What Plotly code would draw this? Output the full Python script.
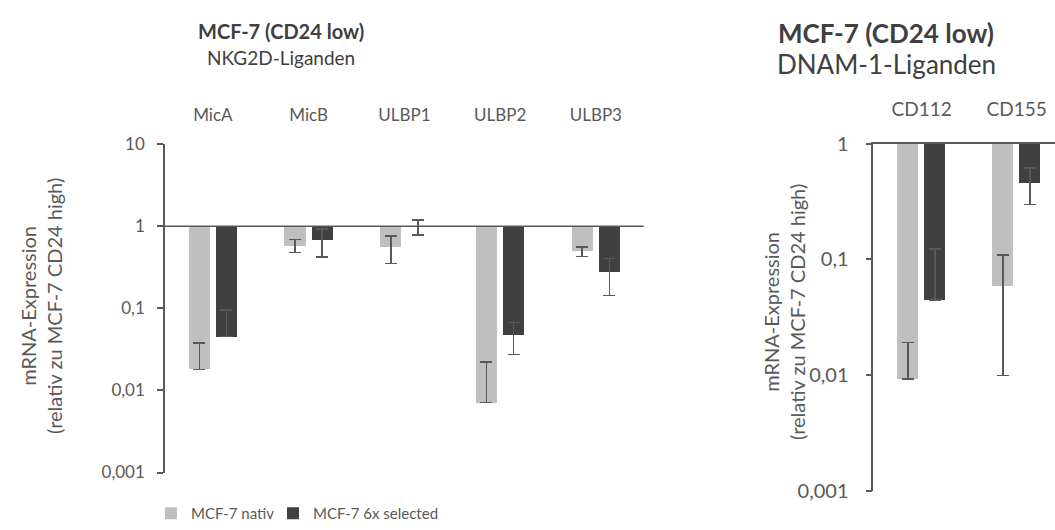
import plotly.graph_objects as go

# --- NKG2D ligands (left panel) ---
nkg_genes = ["MicA", "MicB", "ULBP1", "ULBP2", "ULBP3"]
nkg_nativ = [0.018, 0.58, 0.557, 0.0071, 0.493]
nkg_nativ_err_plus = [0.020, 0.105, 0.205, 0.015, 0.067]
nkg_nativ_err_minus = [0.0, 0.105, 0.205, 0.0, 0.067]
nkg_sel = [0.045, 0.671, 0.98, 0.0475, 0.273]
nkg_sel_err_plus = [0.050, 0.25, 0.20, 0.020, 0.13]
nkg_sel_err_minus = [0.0, 0.25, 0.20, 0.020, 0.13]

# --- DNAM-1 ligands (right panel) ---
dnam_genes = ["CD112", "CD155"]
dnam_nativ = [0.0092, 0.0594]
dnam_nativ_err_plus = [0.0099, 0.0495]
dnam_nativ_err_minus = [0.0, 0.0495]
dnam_sel = [0.0446, 0.459]
dnam_sel_err_plus = [0.078, 0.16]
dnam_sel_err_minus = [0.0, 0.16]

tick_vals_left = [10, 1, 0.1, 0.01, 0.001]
tick_text_left = ["10", "1", "0,1", "0,01", "0,001"]
tick_vals_right = [1, 0.1, 0.01, 0.001]
tick_text_right = ["1", "0,1", "0,01", "0,001"]

series_names = ["MCF-7 nativ", "MCF-7 6x selected"]

LIGHT = "#bfbfbf"
DARK = "#404040"
AXIS = "#595959"
TEXT = "#595959"
TITLE = "#404040"
FONT = "Lato"

BAR_W = 0.22
OFFSETS = [-0.252, 0.032]
LEGENDS = ["legend", "legend2"]


def bars(cats, vals, ep, em, idx, color, xa, ya, show):
    # bars hang down from the reference level 1 (ratio to CD24 high)
    return go.Bar(
        x=cats,
        y=[v - 1 for v in vals],
        base=1,
        width=BAR_W,
        offset=OFFSETS[idx],
        name=series_names[idx],
        marker=dict(color=color, line=dict(width=0)),
        error_y=dict(type="data", symmetric=False, array=ep, arrayminus=em,
                     color=AXIS, thickness=1.5, width=6),
        xaxis=xa, yaxis=ya,
        showlegend=show,
        legend=LEGENDS[idx],
    )


fig = go.Figure()
fig.add_trace(bars(nkg_genes, nkg_nativ, nkg_nativ_err_plus, nkg_nativ_err_minus,
                   0, LIGHT, "x", "y", True))
fig.add_trace(bars(nkg_genes, nkg_sel, nkg_sel_err_plus, nkg_sel_err_minus,
                   1, DARK, "x", "y", True))
fig.add_trace(bars(dnam_genes, dnam_nativ, dnam_nativ_err_plus, dnam_nativ_err_minus,
                   0, LIGHT, "x2", "y2", False))
fig.add_trace(bars(dnam_genes, dnam_sel, dnam_sel_err_plus, dnam_sel_err_minus,
                   1, DARK, "x2", "y2", False))

W, H = 1055, 530


def px_x(p):
    return p / W


def px_y(p):
    return 1 - p / H


def yaxis_style(size, standoff):
    return dict(
        type="log", showline=True, linecolor=AXIS, linewidth=1.5,
        ticks="outside", ticklen=6, tickwidth=1.5, tickcolor=AXIS,
        showgrid=False, zeroline=False, automargin=False,
        tickfont=dict(size=size, color=TEXT, family=FONT),
        ticklabelstandoff=standoff,
    )


def xaxis_style(size, standoff):
    return dict(
        type="category", side="top", ticks="", showgrid=False, zeroline=False,
        automargin=False,
        tickfont=dict(size=size, color=TEXT, family=FONT), ticklabelstandoff=standoff,
    )


def legend_box(x_px):
    return dict(orientation="h", x=px_x(x_px), y=0, xanchor="left", yanchor="bottom",
                font=dict(size=15, color=TEXT, family=FONT), bgcolor="rgba(0,0,0,0)",
                itemwidth=30)


fig.update_layout(
    width=W, height=H,
    margin=dict(l=0, r=0, t=0, b=0),
    paper_bgcolor="white", plot_bgcolor="white",
    barmode="overlay",
    separators=",.",
    font=dict(family=FONT, color=TEXT),
    xaxis=dict(domain=[px_x(165), px_x(643.7)], range=[-0.5, 4.5], showline=False,
               anchor="y", categoryorder="array", categoryarray=nkg_genes,
               **xaxis_style(17, 19)),
    yaxis=dict(domain=[px_y(472.5), px_y(144)], range=[-3, 1], anchor="x",
               tickvals=tick_vals_left, ticktext=tick_text_left, **yaxis_style(17, 9)),
    xaxis2=dict(domain=[px_x(873.3), 1.0], range=[-0.509, 1.404], showline=True,
                linecolor=AXIS, linewidth=1.5, anchor="y2",
                categoryorder="array", categoryarray=dnam_genes,
                **xaxis_style(19, 18)),
    yaxis2=dict(domain=[px_y(490.5), px_y(143.7)], range=[-3, 0], anchor="x2",
                tickvals=tick_vals_right, ticktext=tick_text_right, **yaxis_style(20, 13)),
    legend=legend_box(151),
    legend2=legend_box(273),
    bargap=0,
)

# reference level 1 across the left panel
fig.add_shape(type="line", xref="x domain", x0=0, x1=1, yref="y", y0=1, y1=1,
              line=dict(color=AXIS, width=1.5), layer="above")

annotations = [
    dict(text="<b>MCF-7 (CD24 low)</b>", x=px_x(281), y=px_y(31), size=20, color=TITLE),
    dict(text="NKG2D-Liganden", x=px_x(281), y=px_y(58), size=19, color=TITLE),
    dict(text="<b>MCF-7 (CD24 low)</b>", x=px_x(886), y=px_y(33), size=26, color=TITLE),
    dict(text="DNAM-1-Liganden", x=px_x(886), y=px_y(64), size=26, color=TITLE),
]
for a in annotations:
    fig.add_annotation(text=a["text"], x=a["x"], y=a["y"], xref="paper", yref="paper",
                       xanchor="center", yanchor="middle", showarrow=False,
                       font=dict(size=a["size"], color=a["color"], family=FONT))

y_title = "mRNA-Expression<br>(relativ zu MCF-7 CD24 high)"
for xc, yc in [(41, 306), (784, 312)]:
    fig.add_annotation(text=y_title, x=px_x(xc), y=px_y(yc), xref="paper", yref="paper",
                       xanchor="center", yanchor="middle", textangle=-90, showarrow=False,
                       font=dict(size=20, color=TEXT, family=FONT))

fig.write_html("out.html")
